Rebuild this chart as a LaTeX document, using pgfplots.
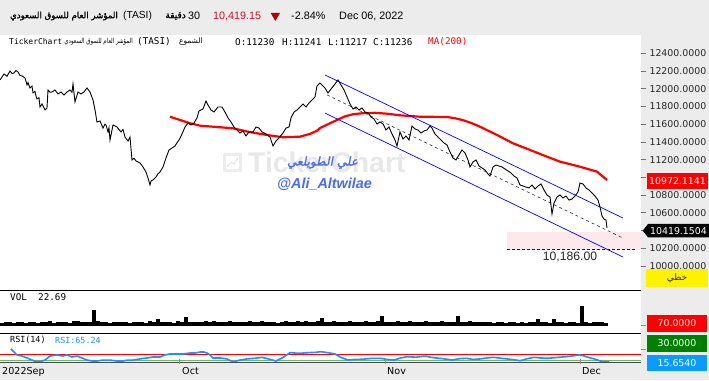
\documentclass[border=0pt]{standalone}
\usepackage{fontspec}
\usepackage{graphicx}
\usepackage{pgfplots}
\pgfplotsset{compat=1.18}
\setmainfont{Liberation Sans}
\newfontfamily\arabicfont[Script=Arabic]{DejaVu Sans}
\newfontfamily\arabicbold[Script=Arabic,FakeBold=1.2]{DejaVu Sans}
\newfontfamily\arabicwm[Script=Arabic,FakeSlant=0.2,FakeBold=1.5]{DejaVu Sans}
\newfontfamily\monofont{DejaVu Sans Mono}
\newfontfamily\dejavu{DejaVu Sans}
\TeXXeTstate=1
\definecolor{bggray}{HTML}{ECECEC}
\definecolor{crimson}{HTML}{C8102E}
\definecolor{wmblue}{HTML}{4A6CF0}
\definecolor{rsiblue}{HTML}{1E90FF}
\definecolor{pinkz}{HTML}{FDE9EC}
\definecolor{lblgreen}{HTML}{008000}
\definecolor{boxblue}{HTML}{0A9BFF}
\definecolor{rsigreen}{HTML}{6DB86D}
\newcommand{\fs}[1]{\fontsize{#1}{#1}\selectfont}
\begin{document}
\begin{tikzpicture}[x=1pt,y=1pt]
% backgrounds
\fill[bggray] (0,0) rectangle (709,380);
\fill[white] (0,{380-363}) rectangle (641,{380-35});
% watermark
\fill[black!7, rounded corners=1pt] (223,{380-172}) rectangle (242,{380-153});
\fill[white] (226,{380-169}) rectangle (239,{380-156});
\draw[black!10, line width=1pt] (227,{380-167}) -- (231,{380-162}) -- (234,{380-164}) -- (238,{380-158});
\node[anchor=west, inner sep=0, text=black!9, font=\bfseries\fs{28.4}] at (248,{380-162.5}) {TickerChart};

% ---------------- main price panel ----------------
\begin{axis}[at={(0pt,89.3pt)}, anchor=south west, scale only axis,
  width=641pt, height=255.7pt,
  xmin=0, xmax=641, ymin=9721, ymax=12606,
  axis line style={draw=none},
  xtick=\empty,
  ytick={10000,10200,10600,10800,11200,11400,11600,11800,12000,12200,12400},
  extra y ticks={10400,11000}, extra y tick labels={},
  scaled y ticks=false,
  ytick pos=right, yticklabel pos=right,
  tick align=outside, major tick length=5pt,
  tick style={black!55, line width=0.6pt},
  yticklabel style={font=\dejavu\fs{9.4}, text=black!85, anchor=west, xshift=0pt,
    /pgf/number format/fixed, /pgf/number format/fixed zerofill,
    /pgf/number format/precision=4, /pgf/number format/1000 sep={},
    /pgf/number format/assume math mode=true},
  ]
% pink zone
\fill[pinkz] (axis cs:507,10180) rectangle (axis cs:641,10383);
\addplot[blue, densely dashed, line width=0.8pt] coordinates {(507,10186) (635,10186)};
% MA(200)
\addplot[red, line width=2.2pt] coordinates {
(170,11684)(180,11647)(190,11610)(200,11583)(217,11568)(233,11553)(250,11510)(267,11478)(283,11452)(300,11459)(310,11490)(317,11526)(320,11556)(330,11610)(337,11647)(345,11688)(353,11712)(363,11724)(375,11728)(387,11718)(400,11700)(420,11684)(447,11681)(455,11667)(463,11645)(472,11610)(480,11571)(497,11478)(513,11384)(530,11309)(547,11233)(560,11177)(580,11120)(597,11064)(607,10970)};
% channel
\addplot[blue, line width=0.7pt] coordinates {(325,12155) (623,10541)};
\addplot[black!80, dashed, line width=0.6pt] coordinates {(327,11930) (623,10315)};
\addplot[blue, line width=0.7pt] coordinates {(325,11725) (623,10101)};
% price
\addplot[black, line width=0.9pt] coordinates {
(0,12099)(4,12166)(7,12140)(10,12200)(12,12170)(14,12178)(16,12205)(18,12189)(20,12150)(22,12144)(25,12121)(27,12042)(28,12070)(30,12008)(32,12031)(33,11952)(35,11970)(36,11918)(37,11884)(39,11900)(40,11794)(42,11828)(45,11760)(47,11783)
(48,11986)(50,11960)(52,11963)(55,11986)(58,11941)(61,11963)(64,11930)(67,11963)(70,11986)(72,11960)(73,12053)
(75,11850)(78,11963)(81,11941)(84,11963)(87,12008)(90,11963)(93,11873)(95,11760)(97,11624)(100,11636)(103,11556)(105,11600)(106,11591)(108,11512)(109,11560)(110,11421)(113,11591)(117,11568)(121,11512)(123,11540)(125,11455)(128,11410)(130,11455)
(132,11196)(134,11215)(136,11185)(140,11162)(143,11117)(146,11060)(148,10993)(150,10914)(151,10960)(153,10970)(156,11004)(158,11040)(160,11060)(163,11117)(166,11218)(169,11309)(172,11331)(175,11354)(177,11390)(179,11421)(182,11489)(185,11568)(188,11613)(191,11591)(194,11613)(197,11670)
(199,11749)(203,11771)(206,11861)(208,11816)(211,11760)(214,11737)(218,11794)(222,11794)(225,11737)(228,11670)(231,11624)(234,11568)(237,11534)(240,11500)(243,11523)(246,11467)(249,11512)(253,11512)(256,11568)(259,11556)(262,11512)(266,11489)(270,11455)(273,11354)(276,11410)(279,11444)(283,11500)(286,11556)(289,11568)
(291,11670)(294,11737)(297,11760)(300,11794)(303,11828)(306,11794)(309,11839)(312,11873)(315,11907)(317,12031)(320,12065)(323,12031)(325,12008)(328,11952)(331,11997)(335,12053)(338,12099)(341,12042)(344,11986)(347,11907)(350,11828)(353,11771)(356,11794)(359,11760)(362,11783)(365,11737)(368,11726)(371,11681)(374,11658)(377,11602)(380,11624)(383,11602)(386,11534)(389,11568)(392,11489)(395,11421)(397,11354)(400,11512)(403,11433)(406,11467)(409,11421)(412,11579)(415,11546)(418,11534)(421,11500)(424,11523)(427,11534)(430,11579)(432,11556)(435,11489)(438,11455)(441,11421)(444,11388)(447,11365)(450,11286)(453,11218)(456,11196)(459,11253)(462,11309)(465,11275)(468,11196)(470,11117)(473,11173)(476,11196)(479,11128)(482,11106)(485,11083)(488,11038)(490,11015)(493,11117)(496,11139)(499,11128)(502,11117)(505,11094)(508,11072)(511,11050)(514,11015)(517,10993)(520,10914)(523,10902)(526,10891)(529,10880)(532,10914)(535,10868)(538,10902)(541,10925)(544,10857)(547,10801)(550,10778)(552,10586)(554,10710)(557,10778)(560,10801)(563,10767)(566,10789)(569,10744)(572,10755)(575,10789)(578,10834)(580,10936)(583,10925)(586,10880)(589,10857)(592,10823)(595,10789)(598,10744)(600,10665)(602,10563)(604,10529)(606,10518)(607,10428)};
\end{axis}

% ---------------- volume panel ----------------
\begin{axis}[at={(0pt,46.7pt)}, anchor=south west, scale only axis,
  width=641pt, height=42.6pt, xmin=0, xmax=641, ymin=-7.6, ymax=35,
  axis lines=none]
\addplot[ycomb, black, line width=3.6pt] coordinates {
(2,3)(6,3.5)(10,4)(14,3)(18,4)(22,3.5)(26,3)(30,4)(34,3.5)(38,3)
(42,4)(46,3.5)(50,4.5)(54,3)(58,4)(62,3.5)(66,4)(70,3)(74,4.5)(78,5)
(82,4)(86,3.5)(90,4)(94,15.5)(98,4.5)(102,3.5)(106,4)(110,3)(114,4)(118,3.5)
(122,3.5)(126,4)(130,3)(134,4)(138,3.5)(142,4)(146,3)(150,4.5)(154,3.5)(158,6.5)
(162,4)(166,3.5)(170,4)(174,3)(178,4.5)(182,4)(186,9)(190,3.5)(194,4)(198,3.5)
(202,4)(206,4.5)(210,3.5)(214,5)(218,4)(222,3.5)(226,4)(230,4.5)(234,3.5)(238,4)
(242,3.5)(246,4)(250,5)(254,4)(258,3.5)(262,4.5)(266,4)(270,3.5)(274,4)(278,3)
(282,4)(286,4.5)(290,3.5)(294,4)(298,5)(302,4)(306,4.5)(310,4)(314,3.5)(318,4.5)
(322,7.5)(326,4)(330,3.5)(334,4.5)(338,4)(342,3.5)(346,4)(350,5)(354,4)(358,3.5)
(362,4)(366,4.5)(370,3.5)(374,4)(378,4.5)(382,9.5)(386,4)(390,3.5)(394,4)(398,4.5)
(402,4)(406,3.5)(410,4.5)(414,4)(418,3.5)(422,4)(426,4.5)(430,4)(434,3.5)(438,4)
(442,4.5)(446,3.5)(450,4)(454,4)(458,10)(462,4)(466,3.5)(470,4.5)(474,4)(478,3.5)
(482,4)(486,3.5)(490,4)(494,3)(498,3.5)(502,4)(506,3)(510,3.5)(514,4)(518,3)
(522,3.5)(526,3)(530,4)(534,3.5)(538,6.5)(542,3.5)(546,4)(550,3)(554,6.5)(558,3.5)
(562,3.5)(566,3)(570,4)(574,3.5)(578,3)(582,20)(586,3.5)(590,3)(594,4)(598,3.5)
(602,3.5)(606,3)};
\end{axis}

% ---------------- RSI panel ----------------
\begin{axis}[at={(0pt,17.3pt)}, anchor=south west, scale only axis,
  width=641pt, height=29.4pt, xmin=0, xmax=641, ymin=17.5, ymax=201,
  axis lines=none]
\addplot[red, line width=1pt] coordinates {(0,70) (641,70)};
\addplot[rsigreen, line width=1pt] coordinates {(0,30) (641,30)};
\addplot[rsiblue, line width=1.6pt] coordinates {
(11,103)(14,84)(17,66)(22,59)(27,47)(32,34)(37,22)(42,28)(45,34)(50,59)(57,66)(63,59)(67,66)(72,53)(77,59)(82,47)(87,34)(92,28)(97,28)(103,34)(110,34)(117,28)(123,28)(128,34)(133,34)(140,41)(147,47)(153,53)(160,53)(165,66)(170,72)(177,72)(183,72)(190,78)(195,78)(200,84)(204,84)(207,78)(210,66)(213,47)(220,47)(227,41)(233,22)(240,34)(247,41)(255,45)(262,51)(269,40)(276,28)(283,50)(290,80)(299,76)(308,80)(315,82)(321,86)(328,80)(335,72)(341,50)(348,34)(355,38)(362,39)(371,44)(380,45)(387,38)(394,34)(400,46)(407,55)(416,52)(425,59)(432,50)(439,45)(446,40)(452,34)(459,42)(466,45)(473,38)(480,41)(487,47)(493,51)(500,46)(507,41)(514,36)(520,30)(527,42)(534,51)(541,47)(548,45)(557,50)(566,55)(573,60)(579,66)(584,60)(588,51)(595,40)(602,24)(609,24)};
\end{axis}

% separators
\draw[black, line width=1pt] (0,{380-290.7}) -- (641,{380-290.7});
\draw[black, line width=1pt] (0,{380-333.3}) -- (641,{380-333.3});
\draw[black!70, line width=0.8pt] (0,{380-362.7}) -- (641,{380-362.7});
\foreach \xx in {179.5,385.6,580} {\draw[black!45, line width=0.6pt] (\xx,{380-359}) -- (\xx,{380-363.5});}
% lower right ticks
\draw[black!45, line width=0.6pt] (641,{380-325}) -- (646,{380-325});
\draw[black!45, line width=0.6pt] (641,{380-349}) -- (646,{380-349});

% watermark author
\node[anchor=center, inner sep=0, text=wmblue, font=\arabicwm\fs{12}] at (322.5,{380-162.5}) {\beginR علي الطويلعي\endR};
\node[anchor=center, inner sep=0, text=wmblue, font=\bfseries\itshape\fs{14.4}] at (324.5,{380-184}) {@Ali\_Altwilae};

% level label
\node[anchor=center, inner sep=0, text=black!85, font=\fs{12.2}] at (570,{380-257.5}) {10,186.00};

% right side price boxes
\fill[red] (647,{380-189.3}) rectangle (708,{380-172.7});
\node[anchor=center, inner sep=0, text=white, font=\dejavu\fs{9.4}] at (677.5,{380-181}) {10972.1141};
\fill[black] (642.7,{380-230.7}) -- (648,{380-224}) -- (709,{380-224}) -- (709,{380-237.3}) -- (648,{380-237.3}) -- cycle;
\node[anchor=center, inner sep=0, text=white, font=\dejavu\fs{9.4}] at (678.5,{380-230.7}) {10419.1504};
\fill[yellow] (645.7,{380-287}) rectangle (708,{380-269});
\node[anchor=center, inner sep=0, text=black!85, font=\arabicfont\fs{9}] at (677,{380-278}) {\beginR خطي\endR};
\fill[red] (647,{380-332}) rectangle (707,{380-315});
\node[anchor=center, inner sep=0, text=white, font=\dejavu\fs{9.4}] at (677,{380-323.5}) {70.0000};
\fill[lblgreen] (647,{380-352}) rectangle (707,{380-335});
\node[anchor=center, inner sep=0, text=white, font=\dejavu\fs{9.4}] at (677,{380-343.5}) {30.0000};
\fill[boxblue] (647,{380-371}) rectangle (707,{380-355});
\node[anchor=center, inner sep=0, text=white, font=\dejavu\fs{9.4}] at (677,{380-363}) {15.6540};

% header line 1
\node[anchor=east, inner sep=0, font=\arabicbold\fs{8.6}] at (118,{380-16}) {\beginR المؤشر العام للسوق السعودي\endR};
\node[anchor=west, inner sep=0, font=\fs{10.2}] at (123,{380-16}) {(TASI)};
\node[anchor=east, inner sep=0, font=\arabicbold\fs{9}] at (186,{380-16}) {\beginR دقيقة\endR};
\node[anchor=west, inner sep=0, font=\fs{10.8}] at (188,{380-16}) {30};
\node[anchor=west, inner sep=0, text=crimson, font=\fs{10.8}] at (213,{380-16}) {10,419.15};
\fill[red!70!black] (270.7,{380-13}) -- (280,{380-13}) -- (275.3,{380-21}) -- cycle;
\node[anchor=west, inner sep=0, font=\fs{10.8}] at (291,{380-16}) {-2.84\%};
\node[anchor=west, inner sep=0, font=\fs{10.8}] at (339,{380-16}) {Dec 06, 2022};

% header line 2
\node[anchor=west, inner sep=0, font=\monofont\fs{8}] at (9,{380-41.7}) {TickerChart};
\node[anchor=east, inner sep=0, font=\arabicfont\fs{7}] at (133,{380-41.7}) {\scalebox{0.78}[1]{\beginR المؤشر العام للسوق السعودي\endR}};
\node[anchor=west, inner sep=0, font=\monofont\fs{9.3}] at (137,{380-41.7}) {(TASI)};
\node[anchor=east, inner sep=0, font=\arabicfont\fs{7.5}] at (203,{380-41.7}) {\beginR الشموع\endR};
\node[anchor=west, inner sep=0, font=\monofont\fs{9.3}] at (235,{380-41.7}) {O:11230};
\node[anchor=west, inner sep=0, font=\monofont\fs{9.3}] at (282,{380-41.7}) {H:11241};
\node[anchor=west, inner sep=0, font=\monofont\fs{9.3}] at (328,{380-41.7}) {L:11217};
\node[anchor=west, inner sep=0, font=\monofont\fs{9.3}] at (373,{380-41.7}) {C:11236};
\node[anchor=west, inner sep=0, text=red, font=\monofont\fs{9.3}] at (428,{380-41.7}) {MA(200)};

% panel labels
\node[anchor=west, inner sep=0, font=\monofont\fs{9.3}] at (10,{380-297}) {VOL\ \ 22.69};
\node[anchor=west, inner sep=0, font=\monofont\fs{8.4}] at (10,{380-340}) {RSI(14)};
\node[anchor=west, inner sep=0, text=rsiblue, font=\monofont\fs{8.4}] at (55,{380-340}) {RSI:65.24};

% dates
\node[anchor=west, inner sep=0, font=\dejavu\fs{9.6}] at (2,{380-371.5}) {2022Sep};
\node[anchor=west, inner sep=0, font=\dejavu\fs{9.6}] at (182,{380-371.5}) {Oct};
\node[anchor=west, inner sep=0, font=\dejavu\fs{9.6}] at (387,{380-371.5}) {Nov};
\node[anchor=west, inner sep=0, font=\dejavu\fs{9.6}] at (582,{380-371.5}) {Dec};

\pgfresetboundingbox
\useasboundingbox (0,0) rectangle (709,380);
\end{tikzpicture}
\end{document}
